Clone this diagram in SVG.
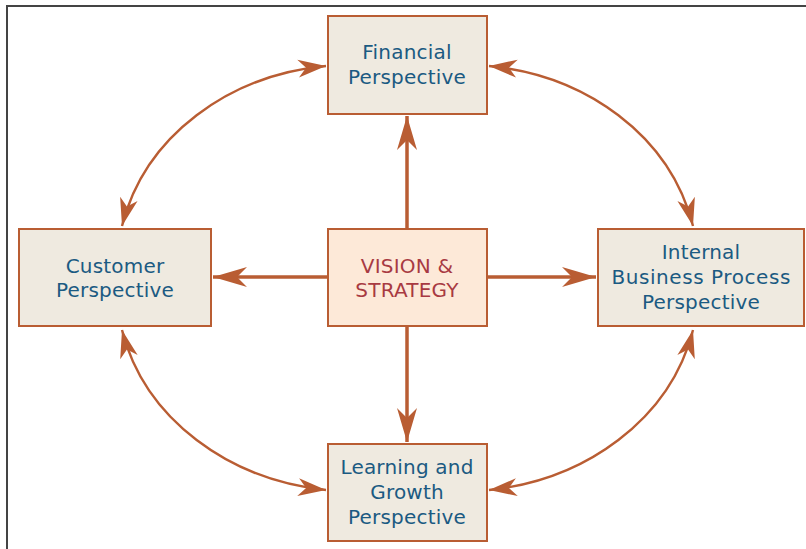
<svg xmlns="http://www.w3.org/2000/svg" width="806" height="549" viewBox="0 0 806 549">
<style>
.box{fill:#efeae0;stroke:#b95d33;stroke-width:2}
.vbox{fill:#fde9d8;stroke:#b95d33;stroke-width:2}
.t{font-family:"DejaVu Sans",sans-serif;font-size:20px;letter-spacing:0.2px;fill:#1b5a82;text-anchor:middle}
.vt{font-family:"DejaVu Sans",sans-serif;font-size:20px;letter-spacing:0.2px;fill:#a83a42;text-anchor:middle}
.c{fill:none;stroke:#b95d33;stroke-width:3.5}
.c2{fill:none;stroke:#b95d33;stroke-width:2.4}
</style>
<defs>
<marker id="ah" markerUnits="userSpaceOnUse" markerWidth="36" markerHeight="24" viewBox="-34 -12 36 24" refX="0" refY="0" orient="auto-start-reverse">
<path d="M0,0 L-34,-10 L-24,0 L-34,10 Z" fill="#b95d33"/>
</marker>
<marker id="ah2" markerUnits="userSpaceOnUse" markerWidth="30" markerHeight="22" viewBox="-28 -11 30 22" refX="0" refY="0" orient="auto-start-reverse">
<path d="M0,0 L-28,-9 L-20,0 L-28,9 Z" fill="#b95d33"/>
</marker>
</defs>
<rect width="806" height="549" fill="#fff"/>
<path d="M7,549 V6 H806" fill="none" stroke="#444" stroke-width="2"/>
<g id="connectors">
<path class="c" d="M407,229 V116" marker-end="url(#ah)"/>
<path class="c" d="M328,277 H213" marker-end="url(#ah)"/>
<path class="c" d="M487,277 H596" marker-end="url(#ah)"/>
<path class="c" d="M407,326 V442" marker-end="url(#ah)"/>
<path class="c2" d="M326,66 C230,75 145,135 122,226" marker-start="url(#ah2)" marker-end="url(#ah2)"/>
<path class="c2" d="M489,66 C585,75 670,135 693,226" marker-start="url(#ah2)" marker-end="url(#ah2)"/>
<path class="c2" d="M122,330 C145,420 230,480 326,490" marker-start="url(#ah2)" marker-end="url(#ah2)"/>
<path class="c2" d="M693,330 C670,420 585,480 489,490" marker-start="url(#ah2)" marker-end="url(#ah2)"/>
</g>
<g id="financial">
<rect class="box" x="328" y="16" width="159" height="98"/>
<text class="t" x="407" y="59">Financial</text>
<text class="t" x="407" y="84">Perspective</text>
</g>
<g id="customer">
<rect class="box" x="19" y="229" width="192" height="97"/>
<text class="t" x="115" y="273">Customer</text>
<text class="t" x="115" y="297">Perspective</text>
</g>
<g id="vision">
<rect class="vbox" x="328" y="229" width="159" height="97"/>
<text class="vt" x="407" y="273">VISION &amp;</text>
<text class="vt" x="407" y="297">STRATEGY</text>
</g>
<g id="internal">
<rect class="box" x="598" y="229" width="206" height="97"/>
<text class="t" x="701" y="259">Internal</text>
<text class="t" x="701" y="284" textLength="179">Business Process</text>
<text class="t" x="701" y="309">Perspective</text>
</g>
<g id="learning">
<rect class="box" x="328" y="444" width="159" height="97"/>
<text class="t" x="407" y="474">Learning and</text>
<text class="t" x="407" y="499">Growth</text>
<text class="t" x="407" y="524">Perspective</text>
</g>
</svg>
